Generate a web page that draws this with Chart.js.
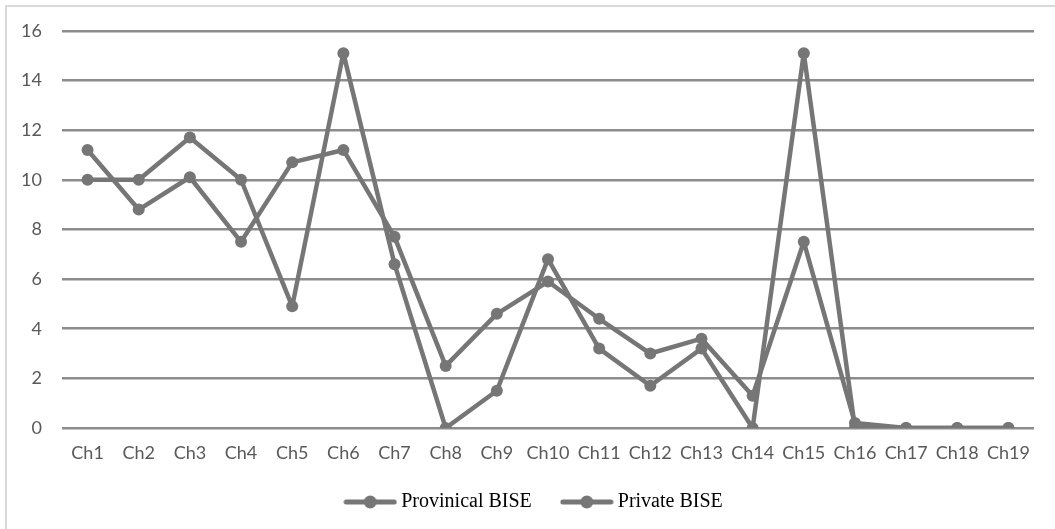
<!DOCTYPE html>
<html>
<head>
<meta charset="utf-8">
<script src="https://cdn.jsdelivr.net/npm/chart.js@4.4.1/dist/chart.umd.min.js"></script>
<style>
  html, body { margin: 0; padding: 0; background: #fff; overflow: hidden; }
  #wrap { position: relative; width: 1055px; height: 529px; }
  #frame { position: absolute; left: 5px; top: 5px; width: 1060px; height: 540px; border: 2px solid #d9d9d9; }
  #c { position: absolute; left: 0; top: 0; }
</style>
</head>
<body>
<div id="wrap">
  <div id="frame"></div>
  <canvas id="c" width="1055" height="529"></canvas>
</div>
<script>
    // chapters on the x axis
    const chapters = ['Ch1','Ch2','Ch3','Ch4','Ch5','Ch6','Ch7','Ch8','Ch9','Ch10',
                      'Ch11','Ch12','Ch13','Ch14','Ch15','Ch16','Ch17','Ch18','Ch19'];
    const provincial = [11.2, 8.8, 10.1, 7.5, 10.7, 11.2, 7.7, 2.5, 4.6, 5.9,
                        4.4, 3.0, 3.6, 1.3, 7.5, 0.2, 0, 0, 0];
    const privateBise = [10, 10, 11.7, 10, 4.9, 15.1, 6.6, 0, 1.5, 6.8,
                         3.2, 1.7, 3.2, 0, 15.1, 0, 0, 0, 0];
    const yTicks = [0, 2, 4, 6, 8, 10, 12, 14, 16];

    const grey = '#767676';

    // legend marker: a short line with a dot in the middle
    function legendMarker() {
        const cv = document.createElement('canvas');
        cv.width = 54; cv.height = 14;
        const g = cv.getContext('2d');
        g.strokeStyle = grey;
        g.lineWidth = 5;
        g.lineCap = 'round';
        g.beginPath(); g.moveTo(3, 7); g.lineTo(51, 7); g.stroke();
        g.fillStyle = grey;
        g.beginPath(); g.arc(27, 7, 6.5, 0, Math.PI * 2); g.fill();
        return cv;
    }
    const marker = legendMarker();

    // keep the legend box short and place it like the original
    const legendFix = {
        id: 'legendFix',
        beforeLayout(chart) {
            const lg = chart.legend;
            if (lg && !lg._fixed) {
                const fit = lg.fit.bind(lg);
                lg.fit = function () { fit(); this.height = 57; };
                lg._fixed = true;
            }
        },
        afterLayout(chart) {
            const lg = chart.legend;
            if (!lg) return;
            lg.left += 38;
            lg.top = 458;
            lg.bottom = 528;
        }
    };

    function series(label, data) {
        return {
            label: label,
            data: data,
            borderColor: grey,
            backgroundColor: grey,
            borderWidth: 4.5,
            borderJoinStyle: 'round',
            borderCapStyle: 'round',
            pointRadius: 6,
            pointHoverRadius: 6,
            pointBackgroundColor: grey,
            pointBorderWidth: 0,
            pointStyle: 'circle',
            tension: 0,
            fill: false
        };
    }

    const ctx = document.getElementById('c').getContext('2d');
    const chart = new Chart(ctx, {
        type: 'line',
        data: {
            labels: chapters,
            datasets: [
                series('Provinical BISE', provincial),
                series('Private BISE', privateBise)
            ]
        },
        plugins: [legendFix],
        options: {
            responsive: false,
            animation: false,
            layout: { padding: { left: 0, right: 21, top: 29, bottom: 9 } },
            plugins: {
                tooltip: { enabled: false },
                legend: {
                    position: 'bottom',
                    labels: {
                        usePointStyle: true,
                        pointStyleWidth: 42,
                        padding: 34,
                        color: '#595959',
                        font: { family: '"Liberation Serif", "Times New Roman", serif', size: 20 },
                        generateLabels: function (ch) {
                            return ch.data.datasets.map((ds, i) => ({
                                text: ds.label,
                                fillStyle: grey,
                                strokeStyle: grey,
                                lineWidth: 0,
                                pointStyle: marker,
                                datasetIndex: i,
                                hidden: false
                            }));
                        }
                    }
                }
            },
            scales: {
                x: {
                    offset: true,
                    afterFit: s => { s.height = 35; },
                    grid: { display: false, drawTicks: false },
                    border: { display: false },
                    ticks: {
                        color: '#595959',
                        padding: 14,
                        maxRotation: 0,
                        autoSkip: false,
                        font: { family: 'Lato, "Open Sans", sans-serif', size: 18 }
                    }
                },
                y: {
                    min: 0,
                    max: 16,
                    afterFit: s => { s.width = 62; },
                    afterBuildTicks: s => { s.ticks = yTicks.map(v => ({ value: v })); },
                    grid: { color: '#8c8c8c', lineWidth: 2.5, drawTicks: false },
                    border: { display: false },
                    ticks: {
                        color: '#595959',
                        padding: 20,
                        font: { family: 'Lato, "Open Sans", sans-serif', size: 18 }
                    }
                }
            }
        }
    });
</script>
</body>
</html>
